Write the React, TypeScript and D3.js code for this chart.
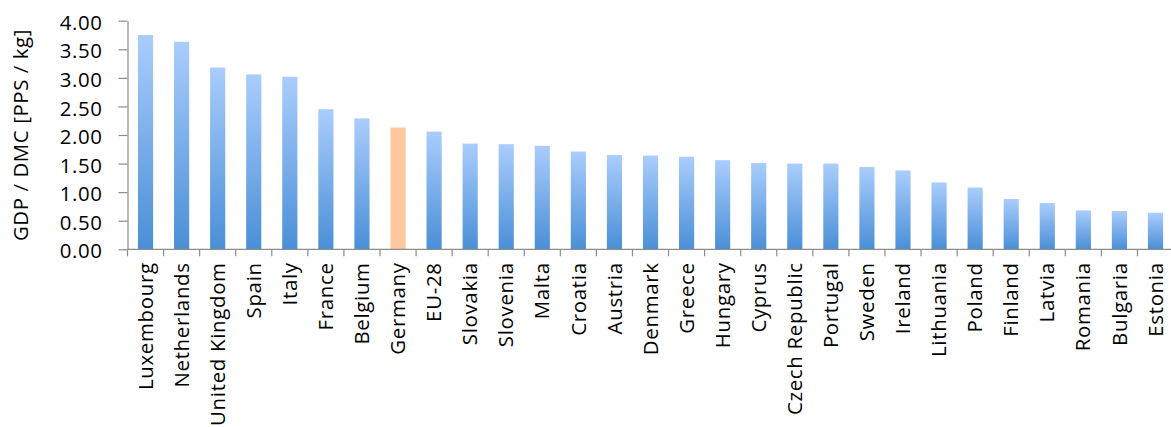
import { useEffect, useRef } from "react";
import * as d3 from "d3";

const countries = [
  "Luxembourg", "Netherlands", "United Kingdom", "Spain", "Italy", "France",
  "Belgium", "Germany", "EU-28", "Slovakia", "Slovenia", "Malta", "Croatia",
  "Austria", "Denmark", "Greece", "Hungary", "Cyprus", "Czech Republic",
  "Portugal", "Sweden", "Ireland", "Lithuania", "Poland", "Finland", "Latvia",
  "Romania", "Bulgaria", "Estonia",
];
const gdpPerDmc = [
  3.75, 3.63, 3.18, 3.06, 3.02, 2.45, 2.29, 2.13, 2.06, 1.85, 1.84, 1.81, 1.71,
  1.65, 1.64, 1.62, 1.56, 1.51, 1.50, 1.50, 1.44, 1.38, 1.17, 1.08, 0.88, 0.81,
  0.68, 0.67, 0.64,
];
const highlighted = "Germany";
const yTicks = [0, 0.5, 1, 1.5, 2, 2.5, 3, 3.5, 4];
const yLabel = "GDP / DMC [PPS / kg]";

export default function App() {
  const svgRef = useRef<SVGSVGElement>(null);

  useEffect(() => {
    if (!svgRef.current) return;
    const width = 1171;
    const height = 427;
    const left = 127.5;
    const top = 20.7;
    const bottom = 249.3;
    const step = 36.07;
    const font = "'Open Sans', sans-serif";
    const fontSize = 20.4;

    const svg = d3.select(svgRef.current);
    svg.selectAll("*").remove();
    svg.attr("width", width).attr("height", height);

    const defs = svg.append("defs");
    const grad = defs.append("linearGradient")
      .attr("id", "barBlue")
      .attr("x1", 0).attr("y1", 0).attr("x2", 0).attr("y2", 1);
    grad.append("stop").attr("offset", "0%").attr("stop-color", "#aacdfc");
    grad.append("stop").attr("offset", "100%").attr("stop-color", "#4a8fd7");

    const x = d3.scaleBand<string>()
      .domain(countries)
      .range([left, left + step * countries.length])
      .paddingInner(0.58)
      .paddingOuter(0.29);
    const y = d3.scaleLinear().domain([0, 4]).range([bottom, top]);

    const rows = countries.map((c, i) => ({ country: c, value: gdpPerDmc[i] }));

    // bars
    svg.append("g")
      .selectAll("rect")
      .data(rows)
      .enter()
      .append("rect")
      .attr("x", d => x(d.country)!)
      .attr("y", d => y(d.value))
      .attr("width", x.bandwidth())
      .attr("height", d => y(0) - y(d.value))
      .attr("fill", d => d.country === highlighted ? "#fdc99c" : "url(#barBlue)");

    // y axis
    const yAxis = d3.axisLeft<number>(y)
      .tickValues(yTicks)
      .tickFormat(d3.format(".2f"))
      .tickSize(9)
      .tickSizeOuter(0)
      .tickPadding(16);
    const gy = svg.append("g")
      .attr("transform", `translate(${left},0)`)
      .call(yAxis);
    gy.selectAll("path, line").attr("stroke", "#8c8c8c").attr("stroke-width", 1.2);
    gy.selectAll("text")
      .attr("fill", "#000")
      .attr("font-size", fontSize)
      .attr("font-family", font)
      .attr("letter-spacing", 0.6)
      .attr("dy", "0.42em");

    // x axis line and boundary ticks
    const gx = svg.append("g");
    gx.append("line")
      .attr("x1", left).attr("x2", width)
      .attr("y1", y(0)).attr("y2", y(0))
      .attr("stroke", "#8c8c8c").attr("stroke-width", 1.2);
    const half = (x.step() - x.bandwidth()) / 2;
    gx.selectAll("line.tick")
      .data(countries)
      .enter()
      .append("line")
      .attr("class", "tick")
      .attr("x1", d => x(d)! - half)
      .attr("x2", d => x(d)! - half)
      .attr("y1", y(0))
      .attr("y2", y(0) + 7)
      .attr("stroke", "#8c8c8c").attr("stroke-width", 1.2);

    gx.selectAll("text")
      .data(countries)
      .enter()
      .append("text")
      .attr("transform", d => `translate(${x(d)! + x.bandwidth() / 2},${y(0) + 13}) rotate(-90)`)
      .attr("text-anchor", "end")
      .attr("dy", "0.35em")
      .attr("fill", "#000")
      .attr("font-size", fontSize)
      .attr("font-family", font)
      .attr("letter-spacing", 0.7)
      .text(d => d);

    svg.append("text")
      .attr("transform", `translate(28,${(top + bottom) / 2}) rotate(-90)`)
      .attr("text-anchor", "middle")
      .attr("fill", "#000")
      .attr("font-size", fontSize)
      .attr("font-family", font)
      .attr("letter-spacing", 0.6)
      .text(yLabel);
  }, []);

  return (
    <svg ref={svgRef} style={{ position: "absolute", left: 0, top: 0, background: "#fff" }}></svg>
  );
}
